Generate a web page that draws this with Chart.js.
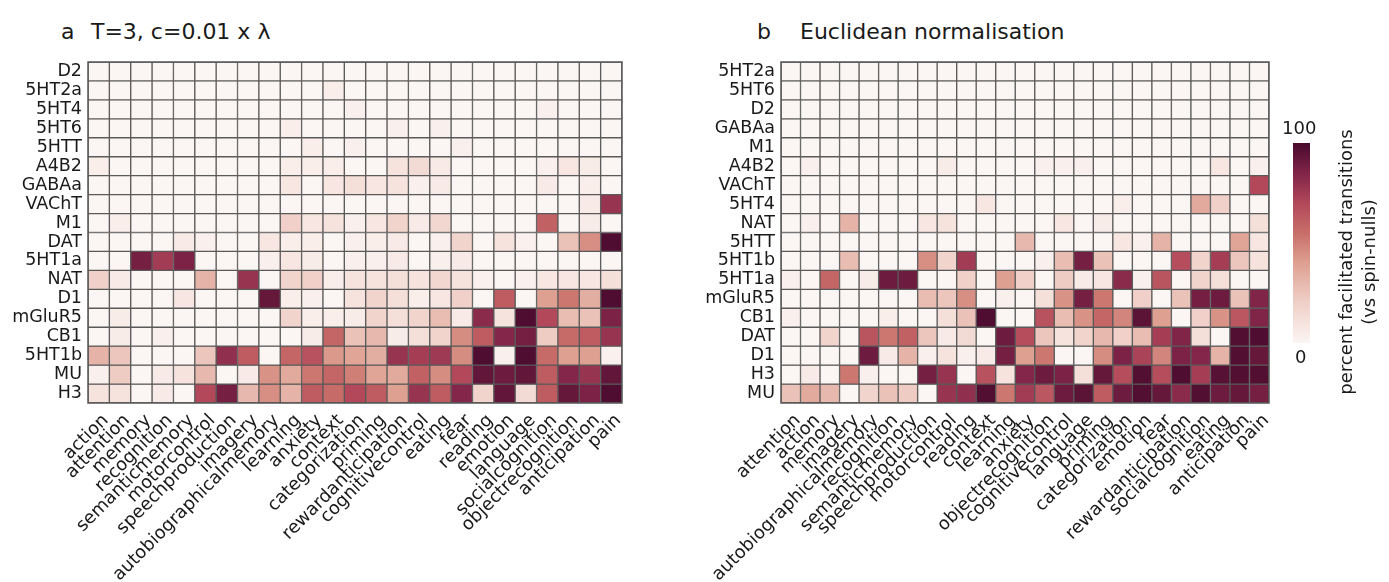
<!DOCTYPE html>
<html><head><meta charset="utf-8">
<script src="https://cdn.jsdelivr.net/npm/chart.js@4.4.0/dist/chart.umd.min.js"></script>
<style>
body{margin:0;background:#fff;width:1389px;height:582px;overflow:hidden;position:relative;font-family:"DejaVu Sans",sans-serif;color:#1a1a1a;}
canvas{position:absolute;top:0;}
.t{position:absolute;font-size:22px;white-space:pre;line-height:1;}
.cb{position:absolute;left:1293px;top:143px;width:17px;height:200px;}
.cbl{position:absolute;font-size:18px;line-height:1;}
.lab{position:absolute;left:1357px;top:261px;width:320px;margin-left:-160px;margin-top:-22px;text-align:center;font-size:18px;line-height:23px;transform:rotate(-90deg);white-space:nowrap;}
</style></head><body>
<div class="t" style="left:61px;top:21px">a</div>
<div class="t" style="left:91px;top:21px">T=3, c=0.01 x λ</div>
<div class="t" style="left:757px;top:21px">b</div>
<div class="t" style="left:800px;top:21px">Euclidean normalisation</div>
<canvas id="ca" width="640" height="582" style="left:0"></canvas>
<canvas id="cb" width="600" height="582" style="left:700px"></canvas>
<div class="cb" id="cbar"></div>
<div class="cbl" style="left:1282px;top:119px">100</div>
<div class="cbl" style="left:1295px;top:348px">0</div>
<div class="lab">percent facilitated transitions<br>(vs spin-nulls)</div>
<script>
const rowsA=["D2","5HT2a","5HT4","5HT6","5HTT","A4B2","GABAa","VAChT","M1","DAT","5HT1a","NAT","D1","mGluR5","CB1","5HT1b","MU","H3"];
const colsA=["action","attention","memory","recognition","semanticmemory","motorcontrol","speechproduction","imagery","autobiographicalmemory","learning","anxiety","context","categorization","priming","rewardanticipation","cognitivecontrol","eating","fear","reading","emotion","language","socialcognition","objectrecognition","anticipation","pain"];
const valuesA=[
[0,0,0,0,0,0,0,0,0,0,0,0,0,0,0,0,0,0,0,0,0,0,0,0,0],
[0,0,0,0,0,0,0,0,0,0,0,4,0,0,0,0,0,0,0,0,0,0,0,0,0],
[0,0,0,0,0,0,0,0,0,0,0,0,3,0,0,0,0,0,0,0,0,3,0,0,0],
[0,0,0,0,0,0,0,0,0,4,0,0,0,0,3,0,3,0,0,0,0,0,0,0,0],
[0,0,0,0,0,0,0,0,0,0,4,0,3,0,0,0,0,3,0,0,0,0,0,0,0],
[4,0,0,0,0,0,0,0,0,4,4,4,0,0,10,14,6,0,0,0,0,3,8,5,0],
[0,0,0,0,0,0,0,0,0,8,0,8,12,8,10,3,6,0,0,0,0,6,0,4,0],
[0,0,0,0,0,0,0,0,0,0,0,0,0,0,0,0,0,0,0,0,0,0,0,6,78],
[0,4,0,0,0,0,0,0,0,20,8,10,3,8,18,6,16,0,0,0,0,60,0,5,0],
[0,0,0,0,6,3,0,0,8,4,4,0,3,4,6,0,3,18,0,10,2,0,26,45,98],
[0,0,88,75,86,0,0,0,3,8,5,0,3,3,6,0,3,6,0,0,0,0,0,0,0],
[20,6,0,0,0,32,0,78,0,18,20,4,10,10,12,10,16,10,2,0,2,8,8,8,12],
[0,0,0,0,8,0,0,0,92,4,3,0,10,18,12,4,8,20,0,62,0,40,52,34,98],
[0,5,0,0,0,0,0,0,0,18,4,4,5,18,12,18,28,6,82,10,98,70,28,26,86],
[0,5,0,3,0,0,0,0,0,0,5,58,26,30,5,12,18,46,62,84,88,22,56,62,78],
[32,24,0,0,0,24,80,62,0,58,66,42,38,34,78,74,76,46,98,3,98,56,40,40,2],
[3,22,0,6,10,30,0,6,44,36,52,58,50,38,36,60,46,70,93,90,93,62,84,78,93],
[10,10,0,6,0,70,88,30,45,32,62,56,70,62,40,78,62,84,18,93,14,62,92,86,98]
];
const rowsB=["5HT2a","5HT6","D2","GABAa","M1","A4B2","VAChT","5HT4","NAT","5HTT","5HT1b","5HT1a","mGluR5","CB1","DAT","D1","H3","MU"];
const colsB=["attention","action","memory","imagery","autobiographicalmemory","recognition","semanticmemory","speechproduction","motorcontrol","reading","context","learning","anxiety","objectrecognition","cognitivecontrol","language","priming","categorization","emotion","fear","rewardanticipation","socialcognition","eating","anticipation","pain"];
const valuesB=[
[0,0,0,0,0,0,0,0,0,0,0,0,0,0,0,0,0,0,0,0,0,0,0,0,0],
[0,0,0,0,0,0,0,0,0,0,0,0,0,0,0,0,0,0,0,0,0,0,0,0,0],
[0,0,0,0,0,0,0,0,0,0,0,0,0,0,0,0,0,0,0,0,0,0,0,0,0],
[0,0,0,0,0,0,0,0,0,0,0,0,0,0,0,0,0,0,0,0,0,0,0,0,0],
[0,0,0,0,0,0,0,0,0,0,0,0,0,0,0,0,0,0,0,0,0,0,0,0,0],
[0,3,0,0,0,0,0,0,5,0,0,0,0,3,3,3,0,0,0,0,0,0,8,0,3],
[0,0,0,0,0,0,0,0,0,0,0,0,0,0,0,0,0,0,0,0,0,0,0,0,70],
[0,0,0,0,0,0,0,0,0,0,8,0,0,0,0,0,0,4,0,0,0,36,20,0,0],
[0,3,0,32,0,0,0,8,10,0,0,0,0,0,8,0,5,0,0,0,0,0,0,0,12],
[0,0,0,0,0,0,0,0,0,0,0,0,30,0,0,0,0,8,3,32,0,0,0,38,8],
[0,0,0,28,0,0,0,45,18,75,0,0,0,3,28,88,26,0,0,0,68,18,74,24,10],
[3,0,58,0,5,90,90,0,0,20,0,40,20,0,22,6,8,82,3,65,0,18,12,0,0],
[0,0,0,0,0,0,0,28,24,45,0,3,0,12,44,88,52,0,20,0,26,88,90,26,85],
[3,0,0,0,0,4,0,0,12,26,98,0,0,66,28,44,58,48,95,40,0,20,44,64,85],
[0,0,18,0,65,52,60,24,6,14,0,90,68,24,10,18,30,20,28,74,85,12,0,97,98],
[0,0,0,0,90,6,32,3,10,3,6,88,40,52,0,0,46,86,72,48,86,84,32,97,92],
[0,6,0,52,3,0,0,88,78,0,66,10,84,90,86,12,92,68,97,68,98,74,96,97,97],
[26,36,30,0,18,26,22,0,78,80,97,52,75,64,90,95,62,90,97,92,82,97,90,92,88]
];
const vmin=0, vmax=100;

const stops=[[0,[251,245,243]],[0.2,[240,208,200]],[0.4,[222,160,145]],[0.55,[200,110,105]],[0.7,[178,72,90]],[0.85,[128,36,72]],[1,[72,10,45]]];
function cmap(v){
  let t=Math.max(0,Math.min(1,(v-vmin)/(vmax-vmin)));
  for(let i=1;i<stops.length;i++){
    if(t<=stops[i][0]){
      const a=stops[i-1],b=stops[i];const f=(t-a[0])/(b[0]-a[0]);
      const c=a[1].map((x,k)=>Math.round(x+(b[1][k]-x)*f));
      return `rgb(${c[0]},${c[1]},${c[2]})`;
    }
  }
  return 'rgb(72,10,45)';
}
document.getElementById('cbar').style.background='linear-gradient(to top,'+stops.map(s=>`rgb(${s[1].join(',')}) ${s[0]*100}%`).join(',')+')';

const FONT='"DejaVu Sans",sans-serif';
const frame={id:'frame',afterDatasetsDraw(ch){const a=ch.chartArea,c=ch.ctx;c.save();c.strokeStyle='#555';c.lineWidth=1.5;c.strokeRect(a.left,a.top,a.right-a.left,a.bottom-a.top);c.restore();}};

function makeHeat(id,rows,cols,vals,yw,padR){
  const datasets=rows.map((r,i)=>({
    label:r,
    data:cols.map(()=>[i,i+1]),
    backgroundColor:cols.map((c,j)=>cmap(vals[i][j])),
    borderColor:'#5a5a5a',borderWidth:1,borderSkipped:false,
    barPercentage:1,categoryPercentage:1
  }));
  new Chart(document.getElementById(id),{
    type:'bar',
    data:{labels:cols,datasets},
    options:{
      responsive:false,animation:false,
      layout:{padding:{left:0,right:padR,top:62,bottom:0}},
      plugins:{legend:{display:false},tooltip:{enabled:false}},
      scales:{
        x:{type:'category',stacked:true,grid:{display:false,drawTicks:false},border:{display:false},
           ticks:{autoSkip:false,maxRotation:45,minRotation:45,padding:7,labelOffset:7,color:'#1a1a1a',font:{family:FONT,size:18}},
           afterFit(s){s.height=179;}},
        y:{type:'linear',stacked:false,min:0,max:rows.length,reverse:true,grid:{display:false,drawTicks:false},border:{display:false},
           afterBuildTicks(s){s.ticks=rows.map((_,i)=>({value:i+0.5}));},
           ticks:{autoSkip:false,padding:6,color:'#1a1a1a',font:{family:FONT,size:17.5},callback:(v)=>rows[Math.floor(v)]},
           afterFit(s){s.width=yw;}}
      }
    },
    plugins:[frame]
  });
}
makeHeat('ca',rowsA,colsA,valuesA,88,18);
makeHeat('cb',rowsB,colsB,valuesB,81,31);
</script>
</body></html>
